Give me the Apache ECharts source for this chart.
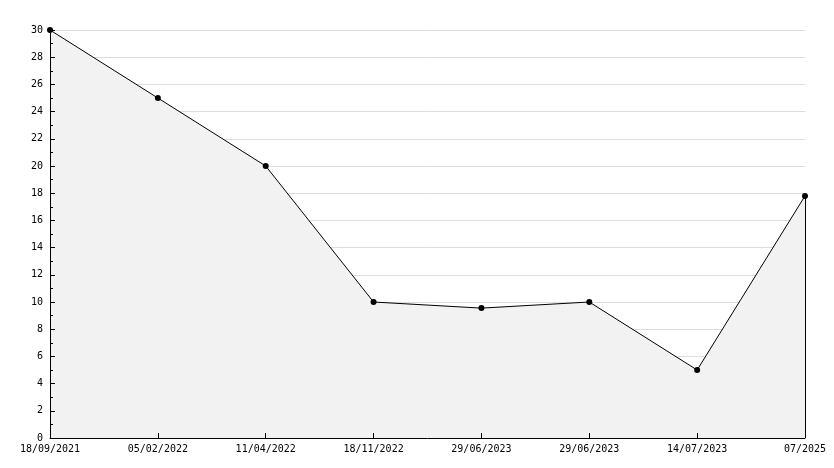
<!DOCTYPE html>
<html>
<head>
<meta charset="utf-8">
<script src="https://cdn.jsdelivr.net/npm/echarts@6/dist/echarts.min.js"></script>
<style>html,body{margin:0;padding:0;background:#fff}#c{width:834px;height:468px}</style>
</head>
<body>
<div id="c"></div>
<script>
var categories = ['18/09/2021','05/02/2022','11/04/2022','18/11/2022','29/06/2023','29/06/2023','14/07/2023','07/2025'];
var values = [30, 25, 20, 10, 9.55, 10, 5, 17.8];
var yMin = 0, yMax = 30, yStep = 2;

var chart = echarts.init(document.getElementById('c'));
var font = 'DejaVu Sans Mono';
chart.setOption({
  animation: false,
  grid: {left: 50, right: 29, top: 30, bottom: 30},
  xAxis: {
    type: 'category',
    z: 10,
    data: categories.map(function (c, i) { return i; }),
    boundaryGap: false,
    axisLine: {lineStyle: {color: '#000', width: 1}},
    axisTick: {inside: true, length: 5, lineStyle: {color: '#000'}, alignWithLabel: true},
    axisLabel: {
      color: '#000', fontFamily: font, fontSize: 10, margin: 6, interval: 0,
      formatter: function (v) { return categories[+v]; }
    },
    splitLine: {show: false}
  },
  yAxis: [{
    type: 'value',
    min: yMin, max: yMax, interval: yStep,
    axisLine: {show: false},
    axisTick: {show: false},
    axisLabel: {show: false},
    splitLine: {show: true, lineStyle: {color: '#dddddd', width: 1}}
  }, {
    type: 'value',
    position: 'left',
    z: 10,
    min: yMin, max: yMax, interval: yStep,
    axisLine: {show: true, lineStyle: {color: '#000', width: 1}},
    axisTick: {show: true, inside: true, length: 5, lineStyle: {color: '#000'}},
    minorTick: {show: true, splitNumber: 2, length: 3, lineStyle: {color: '#000'}},
    axisLabel: {color: '#000', fontFamily: font, fontSize: 10, margin: 7},
    splitLine: {show: false}
  }],
  series: [{
    type: 'line',
    yAxisIndex: 0,
    data: values,
    symbol: 'circle',
    symbolSize: 6,
    itemStyle: {color: '#000'},
    lineStyle: {color: '#000', width: 1},
    areaStyle: {color: '#f2f2f2', opacity: 1},
    markLine: {
      silent: true, symbol: 'none', label: {show: false},
      lineStyle: {color: '#000', width: 1, type: 'solid'},
      data: [[{coord: [String(categories.length - 1), values[values.length - 1]]}, {coord: [String(categories.length - 1), yMin]}]]
    }
  }]
});
</script>
</body>
</html>
